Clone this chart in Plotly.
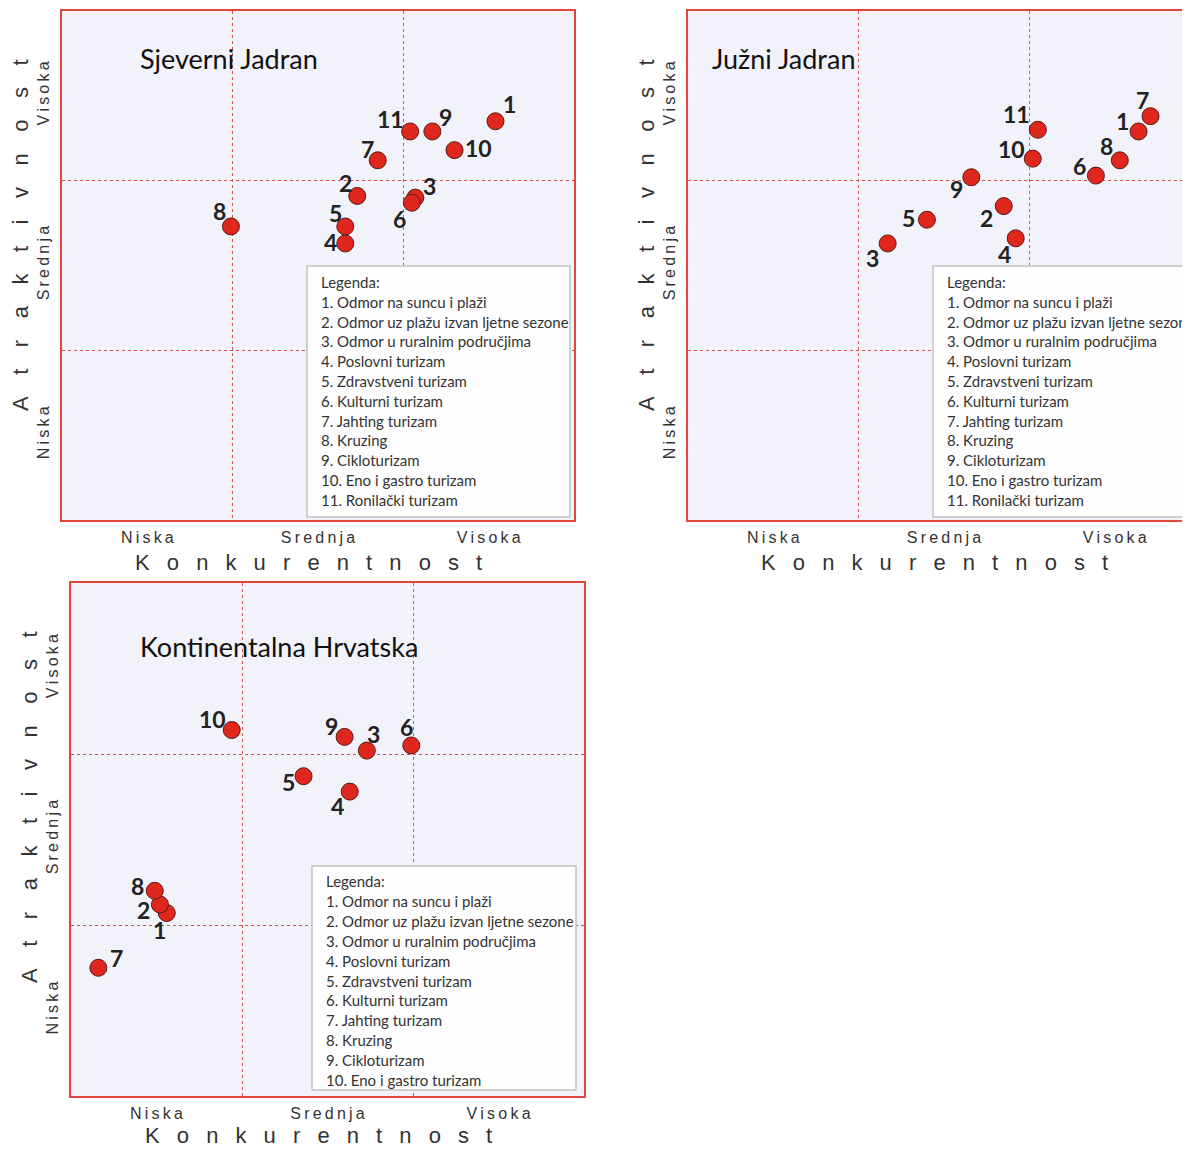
import plotly.graph_objects as go

# page body has an 8px margin: figure is sized/positioned to compensate
OFF = 8
W, H = 1190 - OFF, 1149 - OFF

# ---------------- data ----------------
levels = ["N\u2009i\u2009s\u2009k\u2009a", "S\u2009r\u2009e\u2009d\u2009n\u2009j\u2009a", "V\u2009i\u2009s\u2009o\u2009k\u2009a"]
level_pos = [0.5, 1.5, 2.5]
x_title = "\u2002 ".join("Konkurentnost")
y_title = "\u2002\u2009 ".join("Atraktivnost")

legend_items = [
    "1. Odmor na suncu i plaži",
    "2. Odmor uz plažu izvan ljetne sezone",
    "3. Odmor u ruralnim područjima",
    "4. Poslovni turizam",
    "5. Zdravstveni turizam",
    "6. Kulturni turizam",
    "7. Jahting turizam",
    "8. Kruzing",
    "9. Cikloturizam",
    "10. Eno i gastro turizam",
    "11. Ronilački turizam",
]

# Sjeverni Jadran
sj_ids = [1, 2, 3, 4, 5, 6, 7, 8, 9, 10, 11]
sj_konk = [2.54, 1.73, 2.07, 1.66, 1.66, 2.05, 1.85, 0.99, 2.17, 2.30, 2.04]
sj_atr = [2.35, 1.91, 1.90, 1.63, 1.73, 1.87, 2.12, 1.73, 2.29, 2.18, 2.29]

# Južni Jadran
jj_ids = [1, 2, 3, 4, 5, 6, 7, 8, 9, 10, 11]
jj_konk = [2.64, 1.85, 1.17, 1.92, 1.40, 2.39, 2.71, 2.53, 1.66, 2.02, 2.05]
jj_atr = [2.29, 1.85, 1.63, 1.66, 1.77, 2.03, 2.38, 2.12, 2.02, 2.13, 2.30]

# Kontinentalna Hrvatska
kh_ids = [1, 2, 3, 4, 5, 6, 7, 8, 9, 10]
kh_konk = [0.56, 0.52, 1.73, 1.63, 1.36, 1.99, 0.16, 0.49, 1.60, 0.94]
kh_atr = [1.07, 1.12, 2.02, 1.78, 1.87, 2.05, 0.75, 1.20, 2.10, 2.14]

# ---------------- style ----------------
sj_off = [(14, 17), (-12, 13), (14, 12), (-15, 1), (-10, 13), (-12, -16),
          (-10, 11), (-11, 15), (13, 14), (24, 2), (-20, 12)]
jj_off = [(-16, 10), (-17, -12), (-15, -15), (-11, -16), (-18, 2), (-16, 10),
          (-8, 16), (-13, 14), (-15, -12), (-21, 10), (-21, 16)]
kh_off = [(-7, -17), (-16, -6), (7, 17), (-12, -14), (-15, -6), (-5, 18),
          (18, 10), (-17, 5), (-13, 11), (-19, 11)]

panels = [
    dict(name="Sjeverni Jadran", ids=sj_ids, x=sj_konk, y=sj_atr, off=sj_off,
         px0=62, px1=574, py0=11, py1=520, title_xy=(138, 58),
         box=(307, 266, 570, 517), leg_x=319, leg_y=282, leg_step=19.8,
         ytitle_y=235, xtitle_x=308, xtitle_y=562, n_leg=11),
    dict(name="Južni Jadran", ids=jj_ids, x=jj_konk, y=jj_atr, off=jj_off,
         px0=688, px1=1200, py0=11, py1=520, title_xy=(710, 58),
         box=(933, 266, 1200, 517), leg_x=945, leg_y=282, leg_step=19.8,
         ytitle_y=235, xtitle_x=934, xtitle_y=562, n_leg=11),
    dict(name="Kontinentalna Hrvatska", ids=kh_ids, x=kh_konk, y=kh_atr, off=kh_off,
         px0=71, px1=584, py0=583, py1=1096, title_xy=(138, 646),
         box=(312, 866, 576, 1090), leg_x=324, leg_y=881, leg_step=19.9,
         ytitle_y=807, xtitle_x=318, xtitle_y=1135, n_leg=10),
]

RED_LINE = "#e2473b"
GRID = "#d4574c"
BG = "#f2f2fa"
MARK = "#e0271d"
TXT = "#222222"
ARIAL = "Liberation Sans, Arial, sans-serif"
CAL = "Lato, Carlito, Calibri, sans-serif"


def fx(px):
    return (px - OFF) / W


def fy(py):
    return 1 - (py - OFF) / H


fig = go.Figure()
annotations = []
shapes = []
layout = {}

for i, p in enumerate(panels):
    k = "" if i == 0 else str(i + 1)
    xa, ya = "x" + k, "y" + k
    xmax_px = min(p["px1"], W + OFF)
    xr = 3 * (xmax_px - p["px0"]) / (p["px1"] - p["px0"])
    fig.add_trace(go.Scatter(
        x=p["x"], y=p["y"], mode="markers", xaxis=xa, yaxis=ya,
        marker=dict(size=17, color=MARK, line=dict(color="#5a1a12", width=1)),
        hoverinfo="skip", showlegend=False, cliponaxis=False))
    layout["xaxis" + k] = dict(
        domain=[fx(p["px0"]), min(1.0, fx(xmax_px))], range=[0, xr], anchor=ya,
        tickvals=level_pos, ticktext=levels, showgrid=False, zeroline=False,
        showline=True, linecolor=RED_LINE, linewidth=1.5, mirror=True,
        ticks="", ticklabelstandoff=2,
        tickfont=dict(family=ARIAL, size=16, color="#333333"),
        minor=dict(tickvals=[1, 2], showgrid=True, gridcolor=GRID, griddash="dot",
                   gridwidth=1, ticks=""),
        fixedrange=True)
    layout["yaxis" + k] = dict(
        domain=[fy(p["py1"]), fy(p["py0"])], range=[0, 3], anchor=xa,
        tickvals=level_pos, ticktext=levels, showgrid=False, zeroline=False,
        showline=True, linecolor=RED_LINE, linewidth=1.5, mirror=(i != 1),
        ticks="", tickangle=-90, ticklabelstandoff=5,
        tickfont=dict(family=ARIAL, size=16, color="#333333"),
        minor=dict(tickvals=[1, 2], showgrid=True, gridcolor=GRID, griddash="dot",
                   gridwidth=1, ticks=""),
        fixedrange=True)

    # point labels
    for pid, xv, yv, (dx, dy) in zip(p["ids"], p["x"], p["y"], p["off"]):
        annotations.append(dict(
            x=xv, y=yv, xref=xa, yref=ya, text=str(pid), showarrow=False,
            xshift=dx, yshift=dy,
            font=dict(family=CAL, size=23, color=TXT, weight="bold")))

    # panel title
    tx, ty = p["title_xy"]
    annotations.append(dict(
        x=fx(tx), y=fy(ty), xref="paper", yref="paper", text=p["name"],
        showarrow=False, xanchor="left", yanchor="middle",
        font=dict(family=CAL, size=27, color="#111111")))

    # axis titles
    annotations.append(dict(
        x=fx(p["xtitle_x"]), y=fy(p["xtitle_y"]), xref="paper", yref="paper",
        text=x_title, showarrow=False, xanchor="center", yanchor="middle",
        font=dict(family=ARIAL, size=22, color="#333333")))
    annotations.append(dict(
        x=fx(p["px0"] - 42), y=fy(p["ytitle_y"]), xref="paper", yref="paper",
        text=y_title, showarrow=False, xanchor="center", yanchor="middle",
        textangle=-90, font=dict(family=ARIAL, size=22, color="#333333")))

    # legend box
    bx0, by0, bx1, by1 = p["box"]
    shapes.append(dict(type="rect", xref="paper", yref="paper",
                       x0=fx(bx0), x1=fx(bx1), y0=fy(by1), y1=fy(by0),
                       line=dict(color="#c4c4c4", width=1.5), fillcolor="#fefefe",
                       layer="above"))
    lines = ["Legenda:"] + legend_items[:p["n_leg"]]
    for j, line in enumerate(lines):
        annotations.append(dict(
            x=fx(p["leg_x"]), y=fy(p["leg_y"] + j * p["leg_step"]),
            xref="paper", yref="paper", text=line, showarrow=False,
            xanchor="left", yanchor="middle",
            font=dict(family=CAL, size=15, color="#333333")))

fig.update_layout(
    width=W, height=H, margin=dict(l=0, r=0, t=0, b=0),
    paper_bgcolor="white", plot_bgcolor=BG,
    annotations=annotations, shapes=shapes, **layout)

fig.write_html("out.html")
